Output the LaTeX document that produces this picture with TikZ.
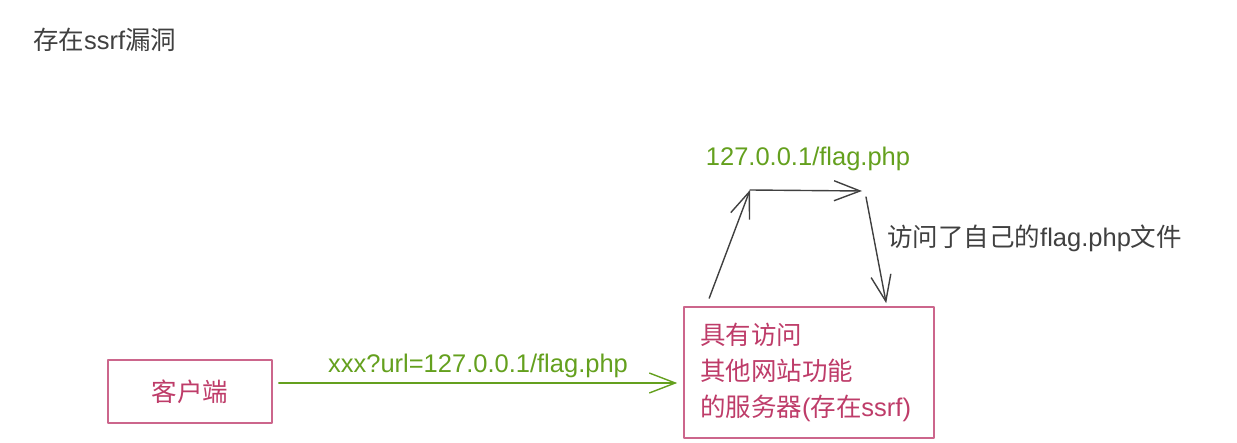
\documentclass[tikz,border=0pt]{standalone}
\usepackage{fontspec}
\setmainfont{Liberation Sans}
\newfontfamily\cjk{Noto Sans CJK SC}
\usetikzlibrary{arrows.meta,positioning,calc}
\definecolor{ssrfpink}{RGB}{204,102,140}
\definecolor{ssrftext}{RGB}{190,60,105}
\definecolor{ssrfgreen}{RGB}{100,160,30}
\definecolor{ssrfgray}{RGB}{64,64,64}
\tikzset{
  box/.style={draw=ssrfpink,line width=1.6pt,text=ssrftext,font=\fontsize{25.5}{36}\selectfont},
  lbl/.style={inner sep=0pt,font=\fontsize{25.5}{36}\selectfont},
  hand/.style={line width=1.4pt,-{Straight Barb[length=26pt,width=20pt]}}
}
\begin{document}
\begin{tikzpicture}[x=1pt,y=-1pt,line cap=round,line join=round]
\useasboundingbox (0,0) rectangle (1237,443);
% title
\node[lbl,anchor=base west,text=ssrfgray] (title) at (33,50) {{\cjk 存在}ssrf{\cjk 漏洞}};
% boxes
\node[box,minimum width=164pt,minimum height=63pt] (client) at (190,391.5) {\cjk 客户端};
\node[box,minimum width=250pt,minimum height=131pt,text width=218pt,inner xsep=16pt,align=left] (server) at (809,372.5)
  {{\cjk 具有访问}\\{\cjk 其他网站功能}\\{\cjk 的服务器}({\cjk 存在}ssrf)};
% request
\coordinate (reqstart) at ([xshift=6pt,yshift=8.5pt]client.east);
\draw[hand,ssrfgreen] (reqstart) -- ($(reqstart -| server.west)+(-6,0)$)
  node[midway,above,lbl,inner sep=5pt,text=ssrfgreen] (requrl) {xxx?url=127.0.0.1/flag.php};
% loop back to itself
\coordinate (peak) at (750,190);
\coordinate (bend) at (862,191);
\coordinate (drop) at (866,197);
\draw[hand,ssrfgray] ([xshift=26pt,yshift=8pt]server.north west) -- (peak);
\draw[hand,ssrfgray] (peak) -- (bend);
\draw[hand,ssrfgray] (drop) -- ([xshift=203pt,yshift=3pt]server.north west);
\node[lbl,text=ssrfgreen,anchor=base] (flagurl) at (808,166) {127.0.0.1/flag.php};
\node[lbl,text=ssrfgray,anchor=base west] (visitnote) at (887,247) {{\cjk 访问了自己的}flag.php{\cjk 文件}};
\end{tikzpicture}
\end{document}
